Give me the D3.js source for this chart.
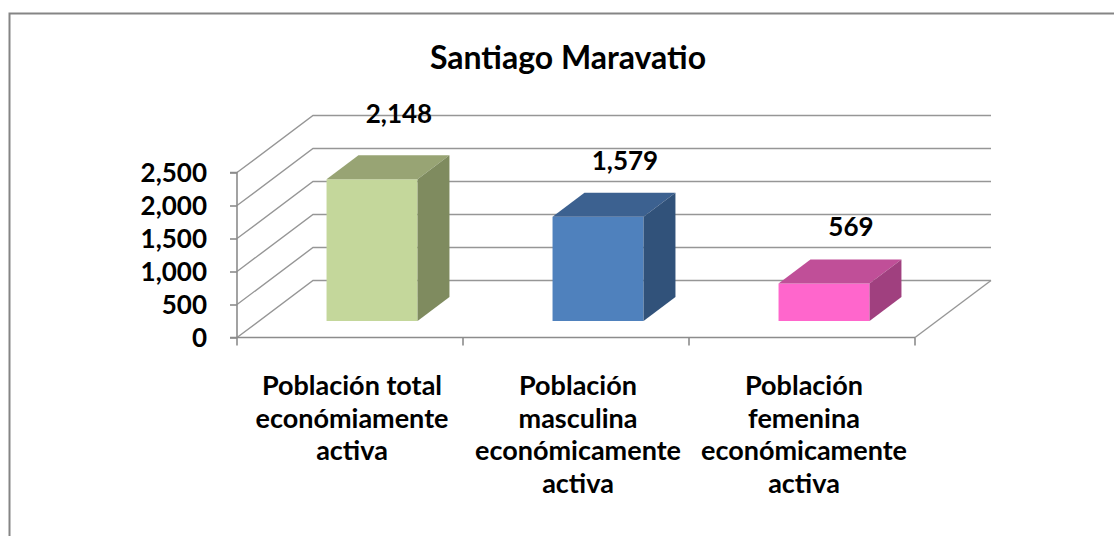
<!DOCTYPE html>
<html>
<head>
<meta charset="utf-8">
<script src="https://cdn.jsdelivr.net/npm/d3@7"></script>
<style>
  body { margin: 0; background: #fff; }
  text { font-family: Lato, "Open Sans", sans-serif; font-weight: bold; fill: #000; }
</style>
</head>
<body>
<div id="chart"></div>
<script>
var categories = [
  ["Población total", "económiamente", "activa"],
  ["Población", "masculina", "económicamente", "activa"],
  ["Población", "femenina", "económicamente", "activa"]
];
var values = [2148, 1579, 569];
var yTicks = [0, 500, 1000, 1500, 2000, 2500];
var title = "Santiago Maravatio";

var frontColors = ["#c4d79b", "#4f81bd", "#ff66cc"];
var topColors   = ["#98a474", "#3c6190", "#c04f98"];
var sideColors  = ["#7f8b5f", "#31527a", "#a0407f"];

var svg_w = 1114, svg_h = 536;

var svg = d3.select("#chart")
      .append("svg")
      .attr("width", svg_w)
      .attr("height", svg_h);

// outer border (cropped chart frame)
svg.append("path")
  .attr("d", "M9.5," + svg_h + " V13.5 H" + svg_w)
  .style("fill", "none")
  .style("stroke", "#858585")
  .style("stroke-width", 2);

// front plane scales
var xScale = d3.scaleBand()
      .domain(d3.range(categories.length))
      .range([237, 915]);

var yScale = d3.scaleLinear()
      .domain([0, 2500])
      .range([337.5, 172.5]);

// depth projection
var depthX = 76, depthY = -57;
function px(x, z) { return x + depthX * z; }
function py(y, z) { return y + depthY * z; }

var g = svg.append("g");

// walls: side gridlines + back gridlines
yTicks.forEach(function(t) {
  var y = yScale(t);
  g.append("path")
    .attr("d", "M" + xScale.range()[0] + "," + y +
               " L" + px(xScale.range()[0], 1) + "," + py(y, 1) +
               " L" + px(xScale.range()[1], 1) + "," + py(y, 1))
    .style("fill", "none")
    .style("stroke", "#969696")
    .style("stroke-width", 1.4);
});

// floor right edge
g.append("line")
  .attr("x1", xScale.range()[1]).attr("y1", yScale(0))
  .attr("x2", px(xScale.range()[1], 1)).attr("y2", py(yScale(0), 1))
  .style("stroke", "#969696")
  .style("stroke-width", 1.4);

// axes
var yAxis = d3.axisLeft(yScale)
      .tickValues(yTicks)
      .tickSize(7)
      .tickFormat(d3.format(","));

var yg = svg.append("g")
  .attr("transform", "translate(" + xScale.range()[0] + ",0)")
  .call(yAxis);
yg.selectAll("path, line").style("stroke", "#8c8c8c").style("stroke-width", 1.6);
yg.select(".domain").attr("d", "M-7," + yScale(2500) + " H0 V" + yScale(0) + " H-7");
yg.selectAll("text")
  .attr("x", -30)
  .attr("dy", "0.36em")
  .style("font-size", "26px")
  .style("font-family", "Lato, sans-serif")
  .style("font-weight", "bold")
  .style("fill", "#000");

var xg = svg.append("g");
xg.append("line")
  .attr("x1", xScale.range()[0]).attr("x2", xScale.range()[1])
  .attr("y1", yScale(0)).attr("y2", yScale(0))
  .style("stroke", "#8c8c8c").style("stroke-width", 1.6);
xg.selectAll("line.tk")
  .data(d3.range(categories.length + 1))
  .enter()
  .append("line")
  .attr("class", "tk")
  .attr("x1", function(i) { return xScale.range()[0] + i * xScale.bandwidth(); })
  .attr("x2", function(i) { return xScale.range()[0] + i * xScale.bandwidth(); })
  .attr("y1", yScale(0))
  .attr("y2", yScale(0) + 8)
  .style("stroke", "#8c8c8c").style("stroke-width", 1.6);

// bars
var barW = 91, zFront = 0.29, zBack = 0.71;

var bars = g.selectAll("g.bar")
  .data(values)
  .enter()
  .append("g")
  .attr("class", "bar");

function barX(i) { return xScale(i) + (xScale.bandwidth() - barW) / 2; }

bars.append("path") // front
  .attr("d", function(d, i) {
    var x0 = px(barX(i), zFront), x1 = x0 + barW;
    var y0 = py(yScale(0), zFront), y1 = py(yScale(d), zFront);
    return "M" + x0 + "," + y0 + " L" + x1 + "," + y0 + " L" + x1 + "," + y1 + " L" + x0 + "," + y1 + "Z";
  })
  .style("fill", function(d, i) { return frontColors[i]; });

bars.append("path") // top
  .attr("d", function(d, i) {
    var x = barX(i), y = yScale(d);
    return "M" + px(x, zFront) + "," + py(y, zFront) +
           " L" + px(x + barW, zFront) + "," + py(y, zFront) +
           " L" + px(x + barW, zBack) + "," + py(y, zBack) +
           " L" + px(x, zBack) + "," + py(y, zBack) + "Z";
  })
  .style("fill", function(d, i) { return topColors[i]; });

bars.append("path") // side
  .attr("d", function(d, i) {
    var x = barX(i) + barW, y = yScale(d), y0 = yScale(0);
    return "M" + px(x, zFront) + "," + py(y0, zFront) +
           " L" + px(x, zBack) + "," + py(y0, zBack) +
           " L" + px(x, zBack) + "," + py(y, zBack) +
           " L" + px(x, zFront) + "," + py(y, zFront) + "Z";
  })
  .style("fill", function(d, i) { return sideColors[i]; });

// value labels
bars.append("text")
  .attr("text-anchor", "middle")
  .attr("x", function(d, i) { return px(barX(i) + barW / 2, zBack) - 5; })
  .attr("y", function(d, i) { return py(yScale(d), zBack) - (i === 0 ? 32 : 23); })
  .style("font-size", "26px")
  .text(function(d) { return d3.format(",")(d); });

// category labels
categories.forEach(function(lines, i) {
  var t = svg.append("text")
    .attr("text-anchor", "middle")
    .style("font-size", "27px");
  lines.forEach(function(s, j) {
    t.append("tspan")
      .attr("x", xScale(i) + xScale.bandwidth() / 2 + 2)
      .attr("y", 395 + j * 32.7)
      .text(s);
  });
});

// title
svg.append("text")
  .attr("text-anchor", "middle")
  .attr("x", 568)
  .attr("y", 69)
  .style("font-size", "32px")
  .text(title);
</script>
</body>
</html>
